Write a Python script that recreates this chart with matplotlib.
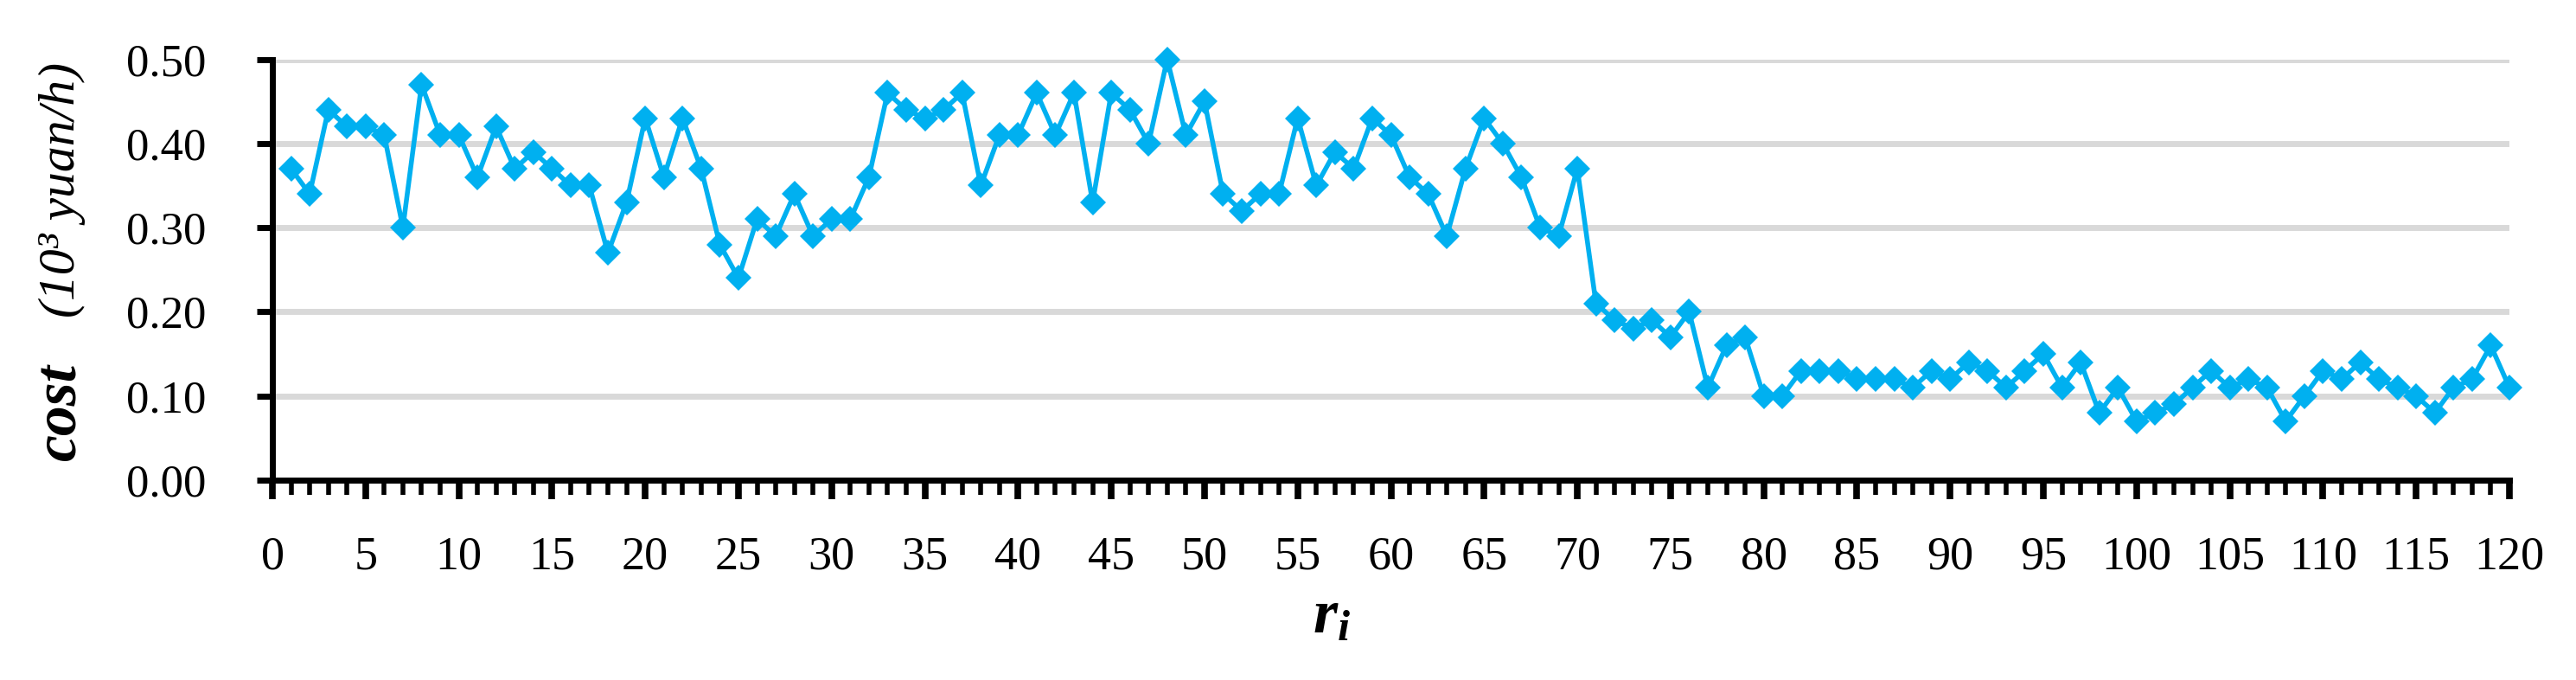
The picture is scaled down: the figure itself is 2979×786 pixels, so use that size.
import matplotlib
matplotlib.use("Agg")
import matplotlib.pyplot as plt
from matplotlib.ticker import MultipleLocator, FormatStrFormatter

plt.rcParams['font.family'] = ['Liberation Serif', 'DejaVu Serif']
plt.rcParams['mathtext.fontset'] = 'custom'
plt.rcParams['mathtext.it'] = 'Liberation Serif:italic:bold'
plt.rcParams['mathtext.rm'] = 'Liberation Serif:bold'

# ---- data ----
r_i = list(range(1, 121))
cost = [
    0.37, 0.34, 0.44, 0.42, 0.42, 0.41, 0.30, 0.47, 0.41, 0.41,
    0.36, 0.42, 0.37, 0.39, 0.37, 0.35, 0.35, 0.27, 0.33, 0.43,
    0.36, 0.43, 0.37, 0.28, 0.24, 0.31, 0.29, 0.34, 0.29, 0.31,
    0.31, 0.36, 0.46, 0.44, 0.43, 0.44, 0.46, 0.35, 0.41, 0.41,
    0.46, 0.41, 0.46, 0.33, 0.46, 0.44, 0.40, 0.50, 0.41, 0.45,
    0.34, 0.32, 0.34, 0.34, 0.43, 0.35, 0.39, 0.37, 0.43, 0.41,
    0.36, 0.34, 0.29, 0.37, 0.43, 0.40, 0.36, 0.30, 0.29, 0.37,
    0.21, 0.19, 0.18, 0.19, 0.17, 0.20, 0.11, 0.16, 0.17, 0.10,
    0.10, 0.13, 0.13, 0.13, 0.12, 0.12, 0.12, 0.11, 0.13, 0.12,
    0.14, 0.13, 0.11, 0.13, 0.15, 0.11, 0.14, 0.08, 0.11, 0.07,
    0.08, 0.09, 0.11, 0.13, 0.11, 0.12, 0.11, 0.07, 0.10, 0.13,
    0.12, 0.14, 0.12, 0.11, 0.10, 0.08, 0.11, 0.12, 0.16, 0.11,
]
x_ticks = list(range(0, 121, 5))
y_ticks = [0.0, 0.1, 0.2, 0.3, 0.4, 0.5]

W, H = 2979, 786
fig = plt.figure(figsize=(W / 100, H / 100), dpi=100)
ax = fig.add_axes([315 / W, 1 - 555 / H, (2902 - 315) / W, (555 - 68.5) / H])

ax.set_xlim(0, 120)
ax.set_ylim(0, 0.5)

for yv in y_ticks[1:]:
    ax.axhline(yv, color='#D9D9D9', linewidth=5, zorder=1)

ax.plot(r_i, cost, color='#00B0F0', linewidth=4, marker='D', markersize=15,
        markeredgewidth=0, zorder=3, clip_on=False)

for s in ['top', 'right']:
    ax.spines[s].set_visible(False)
for s in ['left', 'bottom']:
    ax.spines[s].set_linewidth(5)
    ax.spines[s].set_color('black')
    ax.spines[s].set_zorder(4)

ax.set_xticks(x_ticks)
ax.xaxis.set_minor_locator(MultipleLocator(1))
ax.set_yticks(y_ticks)
ax.yaxis.set_major_formatter(FormatStrFormatter('%.2f'))

ax.tick_params(axis='x', which='major', direction='out', length=16, width=5.5,
               pad=30, labelsize=39)
ax.tick_params(axis='x', which='minor', direction='out', length=12, width=4)
ax.tick_params(axis='y', which='major', direction='out', length=13, width=5,
               pad=42, labelsize=38)

# axis labels
fig.text(1540 / W, 1 - 714 / H, r'$r_i$', ha='center', va='center', fontsize=52)
fig.text(70 / W, 1 - 532 / H, 'cost', rotation=90, ha='center', va='bottom',
         fontsize=50, fontweight='bold', fontstyle='italic')
fig.text(72 / W, 1 - 72 / H, '(10³ yuan/h)', rotation=90, ha='center', va='top',
         fontsize=43, fontstyle='italic')

fig.savefig('out.png', dpi=100)
